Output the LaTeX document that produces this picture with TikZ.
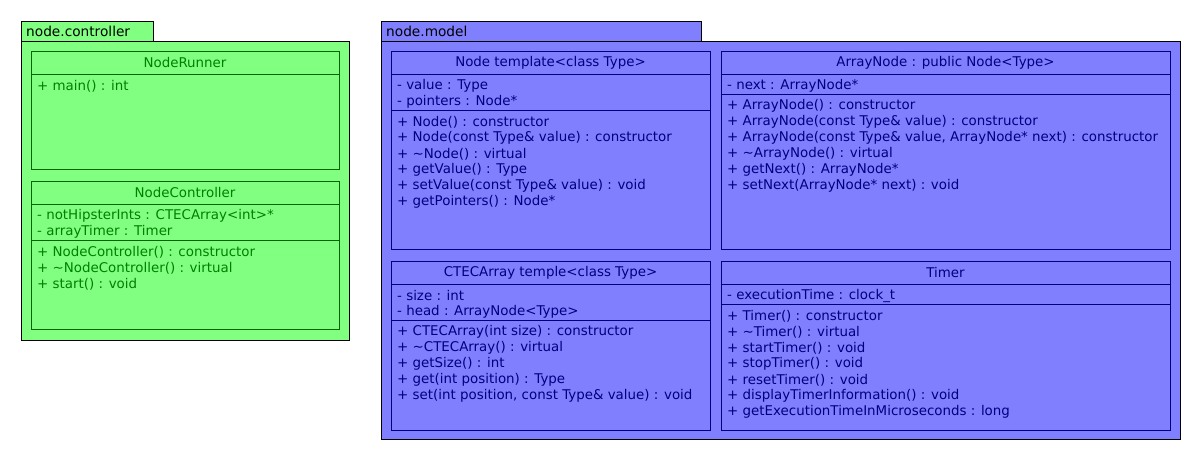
\documentclass[tikz,border=0pt]{standalone}
\usepackage{fontspec}
\setmainfont{DejaVu Sans}
\definecolor{ctrlfill}{RGB}{128,255,128}
\definecolor{ctrltext}{RGB}{0,128,0}
\definecolor{ctrlline}{RGB}{0,100,0}
\definecolor{modelfill}{RGB}{128,128,255}
\definecolor{modeltext}{RGB}{0,0,128}
\tikzset{
  pkgbox/.style={draw=black, line width=1.2pt, anchor=north west, inner sep=0pt},
  pkglabel/.style={anchor=west, inner sep=0pt, text=black, font=\fontsize{13.7}{15}\selectfont},
  classbox/.style={draw, line width=0.9pt, anchor=north west, inner sep=0pt},
  classtitle/.style={inner sep=0pt, font=\fontsize{13.4}{15}\selectfont},
  member/.style={anchor=west, inner sep=0pt, font=\fontsize{13.4}{15}\selectfont},
}
\begin{document}
\begin{tikzpicture}[x=1pt, y=-1pt]
  \useasboundingbox (0,0) rectangle (1200,460);

  % package node.controller
  \node[pkgbox, fill=ctrlfill, minimum width=132pt, minimum height=20pt] (ctrltab) at (21,21) {};
  \node[pkgbox, fill=ctrlfill, minimum width=328pt, minimum height=299pt] (ctrl) at (21,41) {};
  \node[pkglabel] (ctrlname) at (26,31) {node.controller};

  \begin{scope}[draw=ctrlline, text=ctrltext]
    % NodeRunner
    \node[classbox, draw=ctrlline, minimum width=308pt, minimum height=118pt] (runner) at (31,51) {};
    \node[classtitle] (runnertitle) at (185,63) {NodeRunner};
    \draw[ctrlline, line width=0.9pt] ([yshift=-23pt]runner.north west) -- ([yshift=-23pt]runner.north east);
    \node[member] (runnerop1) at (37,86) {+ main() : int};

    % NodeController
    \node[classbox, draw=ctrlline, minimum width=308pt, minimum height=148pt] (ctrlr) at (31,181) {};
    \node[classtitle] (ctrlrtitle) at (185,193) {NodeController};
    \draw[ctrlline, line width=0.9pt] ([yshift=-23pt]ctrlr.north west) -- ([yshift=-23pt]ctrlr.north east);
    \draw[ctrlline, line width=0.9pt] ([yshift=-59pt]ctrlr.north west) -- ([yshift=-59pt]ctrlr.north east);
    \foreach \txt [count=\k] in {- notHipsterInts : CTECArray<int>*, - arrayTimer : Timer} {
      \pgfmathsetmacro{\ypos}{216+16*(\k-1)}
      \node[member] (ctrlrattr\k) at (37,\ypos) {\txt};
    }
    \foreach \txt [count=\k] in {+ NodeController() : constructor, + \textasciitilde NodeController() : virtual, + start() : void} {
      \pgfmathsetmacro{\ypos}{252+16*(\k-1)}
      \node[member] (ctrlrop\k) at (37,\ypos) {\txt};
    }
  \end{scope}

  % package node.model
  \node[pkgbox, fill=modelfill, minimum width=320pt, minimum height=20pt] (modeltab) at (381,21) {};
  \node[pkgbox, fill=modelfill, minimum width=799pt, minimum height=398pt] (model) at (381,41) {};
  \node[pkglabel] (modelname) at (386,31) {node.model};

  \begin{scope}[text=modeltext]
    % Node template
    \node[classbox, draw=modeltext, minimum width=319pt, minimum height=198pt] (node) at (391,51) {};
    \node[classtitle] (nodetitle) at (550.5,63) {Node template<class Type>};
    \draw[modeltext, line width=0.9pt] ([yshift=-23pt]node.north west) -- ([yshift=-23pt]node.north east);
    \draw[modeltext, line width=0.9pt] ([yshift=-59pt]node.north west) -- ([yshift=-59pt]node.north east);
    \foreach \txt [count=\k] in {- value : Type, - pointers : Node*} {
      \pgfmathsetmacro{\ypos}{86+16*(\k-1)}
      \node[member] (nodeattr\k) at (397,\ypos) {\txt};
    }
    \foreach \txt [count=\k] in {+ Node() : constructor, + Node(const Type\& value) : constructor,
        + \textasciitilde Node() : virtual, + getValue() : Type,
        + setValue(const Type\& value) : void, + getPointers() : Node*} {
      \pgfmathsetmacro{\ypos}{122+16*(\k-1)}
      \node[member] (nodeop\k) at (397,\ypos) {\txt};
    }

    % ArrayNode
    \node[classbox, draw=modeltext, minimum width=449pt, minimum height=198pt] (arraynode) at (721,51) {};
    \node[classtitle] (arraynodetitle) at (945.5,63) {ArrayNode : public Node<Type>};
    \draw[modeltext, line width=0.9pt] ([yshift=-23pt]arraynode.north west) -- ([yshift=-23pt]arraynode.north east);
    \draw[modeltext, line width=0.9pt] ([yshift=-43pt]arraynode.north west) -- ([yshift=-43pt]arraynode.north east);
    \node[member] (arraynodeattr1) at (727,86) {- next : ArrayNode*};
    \foreach \txt [count=\k] in {+ ArrayNode() : constructor, + ArrayNode(const Type\& value) : constructor,
        {+ ArrayNode(const Type\& value, ArrayNode* next) : constructor},
        + \textasciitilde ArrayNode() : virtual, + getNext() : ArrayNode*,
        + setNext(ArrayNode* next) : void} {
      \pgfmathsetmacro{\ypos}{106+16*(\k-1)}
      \node[member] (arraynodeop\k) at (727,\ypos) {\txt};
    }

    % CTECArray
    \node[classbox, draw=modeltext, minimum width=319pt, minimum height=169pt] (ctec) at (391,261) {};
    \node[classtitle] (ctectitle) at (550.5,273) {CTECArray temple<class Type>};
    \draw[modeltext, line width=0.9pt] ([yshift=-23pt]ctec.north west) -- ([yshift=-23pt]ctec.north east);
    \draw[modeltext, line width=0.9pt] ([yshift=-59pt]ctec.north west) -- ([yshift=-59pt]ctec.north east);
    \foreach \txt [count=\k] in {- size : int, - head : ArrayNode<Type>} {
      \pgfmathsetmacro{\ypos}{296+16*(\k-1)}
      \node[member] (ctecattr\k) at (397,\ypos) {\txt};
    }
    \foreach \txt [count=\k] in {+ CTECArray(int size) : constructor, + \textasciitilde CTECArray() : virtual,
        + getSize() : int, + get(int position) : Type,
        {+ set(int position, const Type\& value) : void}} {
      \pgfmathsetmacro{\ypos}{332+16*(\k-1)}
      \node[member] (ctecop\k) at (397,\ypos) {\txt};
    }

    % Timer
    \node[classbox, draw=modeltext, minimum width=449pt, minimum height=169pt] (timer) at (721,261) {};
    \node[classtitle] (timertitle) at (945.5,273) {Timer};
    \draw[modeltext, line width=0.9pt] ([yshift=-23pt]timer.north west) -- ([yshift=-23pt]timer.north east);
    \draw[modeltext, line width=0.9pt] ([yshift=-43pt]timer.north west) -- ([yshift=-43pt]timer.north east);
    \node[member] (timerattr1) at (727,296) {- executionTime : clock\_t};
    \foreach \txt [count=\k] in {+ Timer() : constructor, + \textasciitilde Timer() : virtual,
        + startTimer() : void, + stopTimer() : void, + resetTimer() : void,
        + displayTimerInformation() : void, + getExecutionTimeInMicroseconds : long} {
      \pgfmathsetmacro{\ypos}{316+16*(\k-1)}
      \node[member] (timerop\k) at (727,\ypos) {\txt};
    }
  \end{scope}
\end{tikzpicture}
\end{document}
